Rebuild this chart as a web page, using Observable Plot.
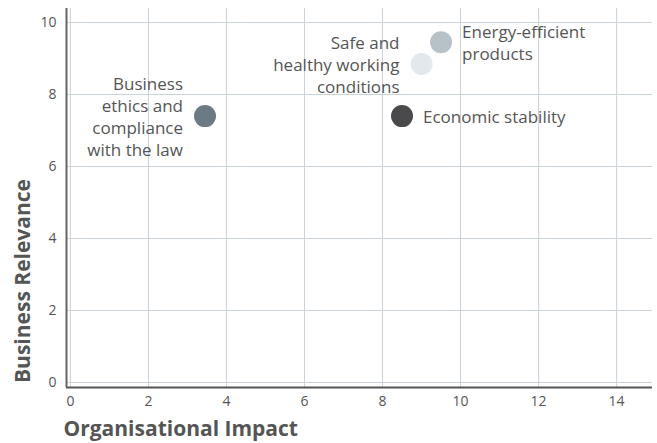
<!DOCTYPE html>
<html>
<head>
<meta charset="utf-8">
<script src="https://cdn.jsdelivr.net/npm/d3@7"></script>
<script src="https://cdn.jsdelivr.net/npm/@observablehq/plot@0.6"></script>
<style>
  html, body { margin: 0; padding: 0; background: #fff; }
  #chart svg { display: block; }
</style>
</head>
<body>
<div id="chart"></div>
<script>
const topics = ["Business\nethics and\ncompliance\nwith the law", "Economic stability", "Safe and\nhealthy working\nconditions", "Energy-efficient\nproducts"];
const impact = [3.45, 8.5, 9.0, 9.5];
const relevance = [7.4, 7.4, 8.85, 9.45];
const colors = ["#6c7a83", "#4a4a4c", "#e2e8ec", "#b7c1c8"];
const labelSide = ["left", "right", "left", "right"];
const xTicks = [0, 2, 4, 6, 8, 10, 12, 14];
const yTicks = [0, 2, 4, 6, 8, 10];
const xTitle = "Organisational Impact";
const yTitle = "Business Relevance";

const data = topics.map((t, i) => ({topic: t, x: impact[i], y: relevance[i], color: colors[i], side: labelSide[i]}));
const xDomain = [-0.1, 14.92];
const yDomain = [-0.14, 10.39];
const font = "'Open Sans', 'Noto Sans', sans-serif";

const chart = Plot.plot({
  width: 657,
  height: 443,
  marginLeft: 66,
  marginRight: 5,
  marginTop: 8,
  marginBottom: 56,
  style: {fontFamily: font, color: "#555", background: "#fff"},
  x: {domain: xDomain, ticks: xTicks, label: null},
  y: {domain: yDomain, ticks: yTicks, label: null},
  marks: [
    Plot.gridX(xTicks, {stroke: "#cbd2d8", strokeOpacity: 1, strokeWidth: 1}),
    Plot.gridY(yTicks, {stroke: "#cbd2d8", strokeOpacity: 1, strokeWidth: 1}),
    Plot.axisX(xTicks, {tickSize: 0, tickPadding: 9, fontSize: 14, fill: "#555", label: null}),
    Plot.axisY(yTicks, {tickSize: 0, tickPadding: 10, fontSize: 14, fill: "#555", label: null}),
    Plot.ruleX([xDomain[0]], {stroke: "#666", strokeWidth: 2}),
    Plot.ruleY([yDomain[0]], {stroke: "#555", strokeWidth: 2}),
    Plot.dot(data, {x: "x", y: "y", r: 11, fill: "color", stroke: null}),
    Plot.text(data.filter(d => d.side === "left"), {x: "x", y: "y", text: "topic", textAnchor: "end", dx: -22, fontSize: 17, lineHeight: 1.3, fill: "#555"}),
    Plot.text(data.filter(d => d.side === "right"), {x: "x", y: "y", text: "topic", textAnchor: "start", dx: 21, fontSize: 17, lineHeight: 1.3, fill: "#555"}),
    Plot.text([xTitle], {frameAnchor: "bottom-left", textAnchor: "start", dx: -3, dy: 48, fontSize: 21, fontWeight: "bold", fill: "#555"}),
    Plot.text([yTitle], {frameAnchor: "left", textAnchor: "middle", rotate: -90, dx: -43, dy: 83, fontSize: 21, fontWeight: "bold", fill: "#555"})
  ]
});
document.getElementById("chart").appendChild(chart);
</script>
</body>
</html>
